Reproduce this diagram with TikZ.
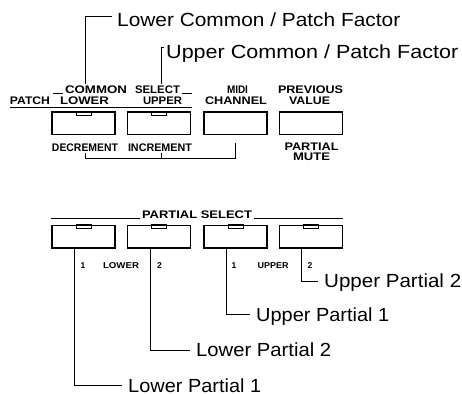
\documentclass[tikz,border=0pt]{standalone}
\usepackage{fontspec}
\setmainfont{Liberation Sans}
\usepackage{graphicx}
\newcommand{\fw}[2]{\resizebox{#1}{\height}{#2}}
\begin{document}
\begin{tikzpicture}[x=1pt,y=-1pt,
  btn/.style={draw, line width=1.5pt, minimum width=63pt, minimum height=22.5pt, inner sep=0pt},
  sm/.style={font=\bfseries\fontsize{11}{11}\selectfont, inner sep=1.5pt, text height=7.9pt, text depth=0pt},
  tiny/.style={font=\bfseries\fontsize{8.5}{8.5}\selectfont, inner sep=1pt, text height=6.1pt, text depth=0pt},
  big/.style={font=\fontsize{19}{19}\selectfont, anchor=west, inner xsep=6pt, inner ysep=0pt, text height=13.6pt, text depth=0pt},
  ln/.style={line width=0.9pt},
  led/.style={line width=0.8pt}
]
\useasboundingbox (0,0) rectangle (462,395);

% ---- row 1 buttons
\node[btn] (b1) at (83.5,123.5) {};
\node[btn] (b2) at (159,123.5) {};
\node[btn] (b3) at (235.5,123.5) {};
\node[btn] (b4) at (311,123.5) {};

% ---- row 1 labels above
\node[sm] (patch) at (30,100.5) {\fw{40pt}{PATCH}};
\node[sm] (common) at (96,89.5) {\fw{62pt}{COMMON}};
\node[sm] (select) at (157.5,89.5) {\fw{45pt}{SELECT}};
\node[sm] (lower) at (84.5,100.5) {\fw{49pt}{LOWER}};
\node[sm] (upper) at (162.5,100.5) {\fw{39pt}{UPPER}};
\node[sm] (midi) at (237.5,89.5) {\fw{21pt}{MIDI}};
\node[sm] (channel) at (236,100.5) {\fw{62pt}{CHANNEL}};
\node[sm] (previous) at (310.5,89.5) {\fw{65pt}{PREVIOUS}};
\node[sm] (value) at (309.5,100.5) {\fw{41pt}{VALUE}};

\draw[ln] ([xshift=-10pt,yshift=-3.9pt]common.west) -- ([yshift=-3.9pt]common.west);
\draw[ln] ([yshift=-3.9pt]select.east) -- ([xshift=10pt,yshift=-3.9pt]select.east);
\coordinate (ulL) at (10,107);
\coordinate (ulR) at (192,107);
\draw[ln] (ulL) -- (ulR);

% ---- top call-outs
\node[big, inner xsep=5pt] (lc) at (112,20) {\fw{283pt}{Lower Common / Patch Factor}};
\node[big, inner xsep=2pt] (uc) at (164,51.5) {\fw{292pt}{Upper Common / Patch Factor}};
\draw[ln] ([yshift=4pt]lc.west) -| ([xshift=-11pt]common.north);
\draw[ln] ([yshift=4pt]uc.west) -| ([xshift=3.5pt]select.north);

% ---- row 1 labels below
\node[sm] (dec) at (85,147.5) {\fw{66pt}{DECREMENT}};
\node[sm] (inc) at (160,147.5) {\fw{64pt}{INCREMENT}};
\node[sm, inner ysep=0.2pt] (partial) at (311.5,147) {\fw{54pt}{PARTIAL}};
\node[sm, inner ysep=0.2pt] (mute) at (311.5,157) {\fw{37pt}{MUTE}};
\coordinate (bk) at (0,158);
\draw[ln] (dec.south) |- (bk -| b3.south) -- ([yshift=-8pt]b3.south);
\draw[ln] ([xshift=1pt]inc.south) -- ([xshift=1pt]inc.south |- bk);

% ---- row 2
\node[sm] (ps) at (197,214.5) {\fw{110pt}{PARTIAL SELECT}};
\node[btn] (p1) at (83.5,236.5) {};
\node[btn] (p2) at (159,236.5) {};
\node[btn] (p3) at (235.5,236.5) {};
\node[btn] (p4) at (311,236.5) {};
\coordinate (psl) at ([yshift=-3.9pt]ps.west);
\coordinate (psr) at ([yshift=-3.9pt]ps.east);
\draw[ln] (p1.west |- psl) -- (psl);
\draw[ln] (psr) -- (p4.east |- psr);

% ---- LEDs
\foreach \b in {b1,b2,p1,p2,p3,p4}
  \draw[led] ([xshift=-7.5pt]\b.north) rectangle ([xshift=7.5pt,yshift=-3.5pt]\b.north);

% ---- row 2 labels below
\node[tiny] (n1) at (83,265) {1};
\node[tiny] (lowr) at (121,265) {\fw{36pt}{LOWER}};
\node[tiny] (n2) at (159.5,265) {2};
\node[tiny] (n3) at (234,265) {1};
\node[tiny] (uppr) at (273,265) {\fw{31pt}{UPPER}};
\node[tiny] (n4) at (310,265) {2};

% ---- bottom call-outs
\node[big] (up2) at (318,281) {\fw{137pt}{Upper Partial 2}};
\node[big] (up1) at (250,314.5) {\fw{133pt}{Upper Partial 1}};
\node[big] (lp2) at (190,350) {\fw{135pt}{Lower Partial 2}};
\node[big] (lp1) at (122,385.5) {\fw{133pt}{Lower Partial 1}};
\draw[ln] ([xshift=-9.5pt]p1.south) |- (lp1.west);
\draw[ln] ([xshift=-9pt]p2.south) |- (lp2.west);
\draw[ln] ([xshift=-9pt]p3.south) |- (up1.west);
\draw[ln] ([xshift=-9.5pt]p4.south) |- (up2.west);
\end{tikzpicture}
\end{document}
